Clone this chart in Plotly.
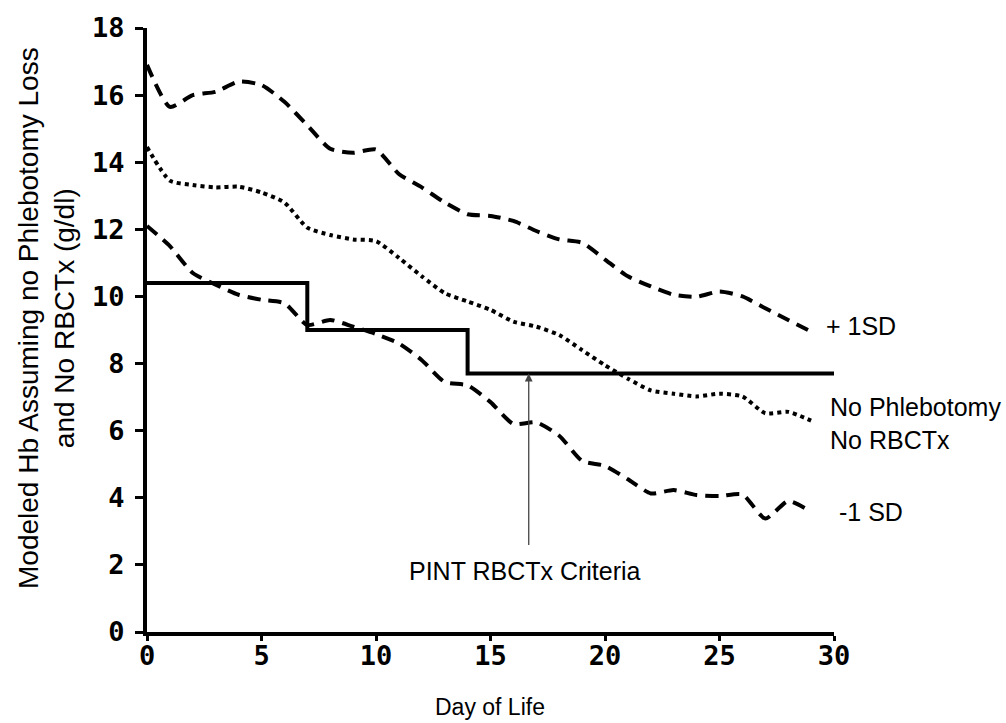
import plotly.graph_objects as go

days = list(range(30))
plus_1sd = [16.9, 15.65, 16.0, 16.1, 16.4, 16.3, 15.8, 15.1, 14.4, 14.28,
            14.38, 13.65, 13.25, 12.8, 12.45, 12.4, 12.25, 11.95, 11.7, 11.6,
            11.1, 10.6, 10.3, 10.05, 9.99, 10.15, 10.0, 9.65, 9.3, 8.95]
no_phleb = [14.45, 13.45, 13.32, 13.25, 13.27, 13.1, 12.8, 12.05, 11.83, 11.7,
            11.65, 11.15, 10.6, 10.1, 9.85, 9.6, 9.25, 9.1, 8.85, 8.4,
            7.95, 7.55, 7.2, 7.1, 7.02, 7.1, 7.02, 6.52, 6.56, 6.3]
minus_1sd = [12.1, 11.5, 10.7, 10.35, 10.05, 9.9, 9.8, 9.15, 9.3, 9.1,
             8.88, 8.6, 8.1, 7.45, 7.35, 6.85, 6.2, 6.25, 5.85, 5.1,
             4.95, 4.55, 4.13, 4.23, 4.08, 4.05, 4.1, 3.38, 3.9, 3.58]
crit_x = [0, 7, 14, 30]
crit_y = [10.4, 9.0, 7.7, 7.7]
x_ticks = [0, 5, 10, 15, 20, 25, 30]
y_ticks = [0, 2, 4, 6, 8, 10, 12, 14, 16, 18]

fig = go.Figure()
fig.add_trace(go.Scatter(x=days, y=plus_1sd, mode="lines",
                         line=dict(color="black", width=4, dash="13px,8px", shape="spline", smoothing=0.6)))
fig.add_trace(go.Scatter(x=days, y=no_phleb, mode="lines",
                         line=dict(color="black", width=4, dash="4px,4px", shape="spline", smoothing=0.6)))
fig.add_trace(go.Scatter(x=days, y=minus_1sd, mode="lines",
                         line=dict(color="black", width=4, dash="13px,8px", shape="spline", smoothing=0.6)))
fig.add_trace(go.Scatter(x=crit_x, y=crit_y, mode="lines",
                         line=dict(color="black", width=4, shape="hv")))

lab = dict(family="Liberation Sans, Arial", size=25, color="black")
ttl = dict(family="Liberation Sans, Arial", size=23, color="black")
ytl = dict(family="Liberation Sans, Arial", size=28, color="black")


def px(xp):
    return (xp - 147) / 687


def py(yp):
    return (632 - yp) / 604


fig.add_annotation(x=16.67, y=7.7, ax=16.67, ay=2.55, xref="x", yref="y", axref="x", ayref="y",
                   showarrow=True, arrowhead=2, arrowsize=1.2, arrowwidth=1.3, arrowcolor="#444", text="")
fig.add_annotation(x=px(525), y=py(571), xref="paper", yref="paper", xanchor="center", yanchor="middle",
                   text="PINT RBCTx Criteria", showarrow=False, font=lab)
fig.add_annotation(x=px(824), y=py(326), xref="paper", yref="paper", xanchor="left", yanchor="middle",
                   text="+ 1SD", showarrow=False, font=lab)
fig.add_annotation(x=px(828), y=py(423), xref="paper", yref="paper", xanchor="left", yanchor="middle",
                   text="No Phlebotomy<br>No RBCTx", showarrow=False, align="left", font=lab)
fig.add_annotation(x=px(837), y=py(512), xref="paper", yref="paper", xanchor="left", yanchor="middle",
                   text="-1 SD", showarrow=False, font=lab)
fig.add_annotation(x=px(490), y=py(707), xref="paper", yref="paper", xanchor="center", yanchor="middle",
                   text="Day of Life", showarrow=False, font=ttl)
fig.add_annotation(x=px(46), y=py(318), xref="paper", yref="paper", xanchor="center", yanchor="middle",
                   text="Modeled Hb Assuming no Phlebotomy Loss<br>and No RBCTx (g/dl)",
                   textangle=-90, showarrow=False, font=ytl)

tickfont = dict(family="DejaVu Sans Mono", size=27, color="black", weight="bold")
fig.update_layout(
    width=1006, height=723,
    margin=dict(l=147, r=172, t=28, b=91),
    plot_bgcolor="white", paper_bgcolor="white",
    showlegend=False,
    xaxis=dict(range=[0, 30], tickvals=x_ticks, showgrid=False, zeroline=False,
               showline=True, linecolor="black", linewidth=4,
               ticks="outside", ticklen=5, tickwidth=3, tickcolor="black",
               ticklabelstandoff=-8, tickfont=tickfont),
    yaxis=dict(range=[0, 18], tickvals=y_ticks, showgrid=False, zeroline=False,
               showline=True, linecolor="black", linewidth=4,
               ticks="outside", ticklen=8, tickwidth=3, tickcolor="black",
               ticklabelstandoff=5, tickfont=tickfont),
)
fig.write_html("out.html")
